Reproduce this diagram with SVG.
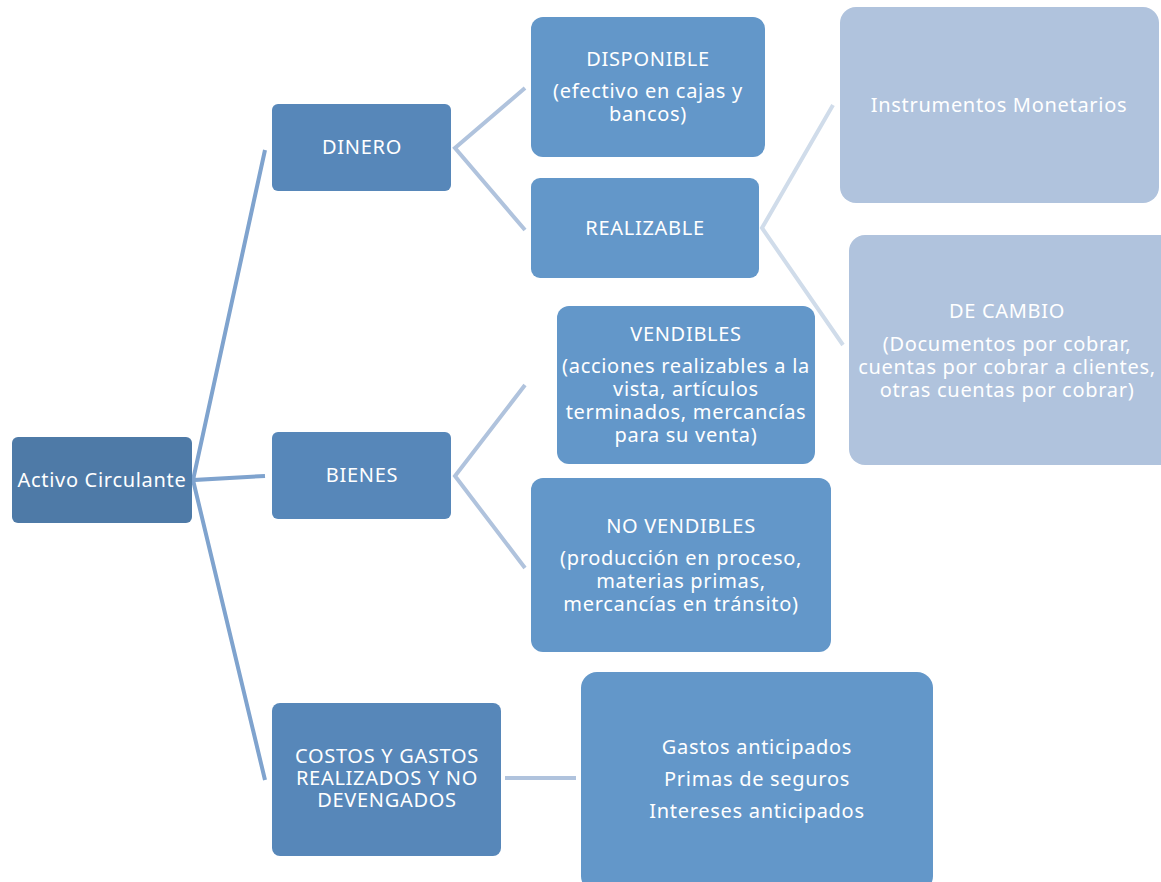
<svg xmlns="http://www.w3.org/2000/svg" width="1161" height="882" viewBox="0 0 1161 882">
<style>
text{font-family:"Noto Sans","Open Sans","DejaVu Sans",sans-serif;font-size:20px;letter-spacing:0.7px;fill:#ffffff;text-anchor:middle}
.l0{fill:#4e7aa7}
.l1{fill:#5787b9}
.l2{fill:#6397c9}
.l3{fill:#b0c3dd}
.c{fill:none;stroke-width:4;stroke-linecap:butt}
</style>
<rect width="1161" height="882" fill="#ffffff"/>
<g id="connectors">
<path class="c" stroke="#7fa3ce" d="M265,150 L193,480 L265,476 M193,480 L265,780"/>
<path class="c" stroke="#b0c3dd" d="M525,88 L455,148 L525,230"/>
<path class="c" stroke="#b0c3dd" d="M525,385 L455,476 L525,568"/>
<path class="c" stroke="#d0dcea" d="M833,105 L762,228 L843,345"/>
<path class="c" stroke="#b0c3dd" stroke-width="6" d="M505,778 L576,778"/>
</g>
<g id="activo"><rect class="l0" x="12" y="437" width="180" height="86" rx="6"/><text x="102" y="487">Activo Circulante</text></g>
<g id="dinero"><rect class="l1" x="272" y="104" width="179" height="87" rx="6"/><text x="362" y="154">DINERO</text></g>
<g id="bienes"><rect class="l1" x="272" y="432" width="179" height="87" rx="6"/><text x="362" y="482">BIENES</text></g>
<g id="costos"><rect class="l1" x="272" y="703" width="229" height="153" rx="8"/><text x="387" y="763">COSTOS Y GASTOS</text><text x="387" y="785">REALIZADOS Y NO</text><text x="387" y="807">DEVENGADOS</text></g>
<g id="disponible"><rect class="l2" x="531" y="17" width="234" height="140" rx="12"/><text x="648" y="66">DISPONIBLE</text><text x="648" y="98">(efectivo en cajas y</text><text x="648" y="121">bancos)</text></g>
<g id="realizable"><rect class="l2" x="531" y="178" width="228" height="100" rx="9"/><text x="645" y="235">REALIZABLE</text></g>
<g id="vendibles"><rect class="l2" x="557" y="306" width="258" height="158" rx="12"/><text x="686" y="341">VENDIBLES</text><text x="686" y="373">(acciones realizables a la</text><text x="686" y="396">vista, artículos</text><text x="686" y="419">terminados, mercancías</text><text x="686" y="442">para su venta)</text></g>
<g id="novendibles"><rect class="l2" x="531" y="478" width="300" height="174" rx="12"/><text x="681" y="533">NO VENDIBLES</text><text x="681" y="565">(producción en proceso,</text><text x="681" y="588">materias primas,</text><text x="681" y="611">mercancías en tránsito)</text></g>
<g id="gastos"><rect class="l2" x="581" y="672" width="352" height="220" rx="16"/><text x="757" y="754">Gastos anticipados</text><text x="757" y="786">Primas de seguros</text><text x="757" y="818">Intereses anticipados</text></g>
<g id="instrumentos"><rect class="l3" x="840" y="7" width="319" height="196" rx="16"/><text x="999" y="112">Instrumentos Monetarios</text></g>
<g id="decambio"><rect class="l3" x="849" y="235" width="330" height="230" rx="16"/><text x="1007" y="318">DE CAMBIO</text><text x="1007" y="351">(Documentos por cobrar,</text><text x="1007" y="374">cuentas por cobrar a clientes,</text><text x="1007" y="397">otras cuentas por cobrar)</text></g>
</svg>
